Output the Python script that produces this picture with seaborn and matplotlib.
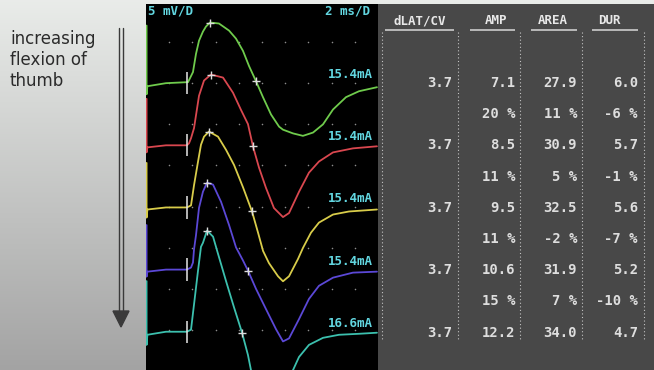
import numpy as np
import pandas as pd
import matplotlib
matplotlib.use("Agg")
import matplotlib.pyplot as plt
from matplotlib.patches import Polygon
import seaborn as sns

# ---------------- data ----------------
trace_ids = ["1", "2", "3", "4", "5"]
stim_currents = ["15.4mA", "15.4mA", "15.4mA", "15.4mA", "16.6mA"]
trace_colors = ["#6fcb4c", "#d9474f", "#d8cc4a", "#5b48d6", "#3cc0ae"]

# time (ms) and amplitude (mV, relative to each trace's baseline)
tr1_ms = [0.05, 0.05, 0.12, 1.72, 3.53, 3.62, 3.88, 4.05, 4.31, 4.57, 4.91, 5.17, 5.52,
          6.29, 7.16, 7.76, 8.36, 8.88, 9.48, 10.09, 10.78, 11.47, 11.81, 12.67, 13.53,
          14.40, 15.26, 16.12, 17.24, 18.36, 19.91]
tr1_mv = [7.0, -1.35, -0.37, 0.0, 0.12, 0.12, 0.86, 1.35, 3.56, 5.16, 6.27, 6.88, 7.37,
          7.25, 6.39, 5.41, 3.93, 2.09, 0.25, -1.72, -3.81, -5.28, -5.65, -6.1, -6.4,
          -6.0, -5.0, -3.2, -1.7, -0.98, -0.49]

tr2_ms = [0.05, 0.05, 0.12, 1.72, 3.53, 3.71, 3.88, 4.14, 4.57, 5.00, 5.60, 6.64, 7.50,
          8.19, 8.79, 9.22, 9.74, 10.34, 11.03, 11.81, 12.33, 13.19, 14.05, 14.91, 16.12,
          17.84, 19.91]
tr2_mv = [5.65, -0.86, -0.25, 0.0, 0.0, 0.25, 0.86, 2.09, 6.02, 7.87, 8.6, 8.23, 6.39,
          4.3, 2.58, -0.12, -2.7, -5.16, -7.62, -8.72, -8.23, -5.65, -3.32, -1.97, -0.86,
          -0.37, -0.12]

tr3_ms = [0.05, 0.05, 0.12, 1.72, 3.53, 3.88, 4.14, 4.48, 4.74, 5.00, 5.43, 6.21, 6.90,
          7.59, 8.36, 9.14, 9.66, 10.09, 10.60, 11.38, 11.81, 12.33, 13.10, 13.53, 14.22,
          14.91, 16.12, 17.50, 19.91]
tr3_mv = [5.41, -1.23, -0.25, 0.0, 0.0, 0.25, 2.7, 5.53, 7.62, 8.6, 9.22, 8.6, 7.0,
          5.16, 2.46, -0.49, -3.07, -5.28, -6.76, -8.36, -8.97, -8.36, -6.27, -4.92, -3.07,
          -1.84, -0.86, -0.49, -0.25]

tr4_ms = [0.05, 0.05, 0.12, 1.72, 3.53, 3.88, 4.05, 4.14, 4.31, 4.57, 4.91, 5.26, 5.78,
          6.47, 7.16, 7.76, 8.36, 8.79, 9.48, 10.34, 11.21, 11.81, 12.33, 13.19, 14.05,
          14.91, 16.12, 17.84, 19.91]
tr4_mv = [5.41, -0.86, -0.25, 0.0, 0.0, 0.25, 0.86, 2.46, 4.18, 7.5, 9.46, 10.57, 10.32,
          8.23, 5.41, 2.7, 1.11, -0.12, -2.33, -4.79, -7.25, -8.73, -8.36, -6.02, -3.56,
          -1.97, -0.98, -0.37, -0.25]

tr5_ms = [0.05, 0.05, 0.12, 1.72, 3.53, 3.88, 4.14, 4.48, 4.74, 4.91, 5.26, 5.78, 6.21,
          6.90, 7.59, 8.28, 8.79, 9.05, 9.66, 10.78, 11.90, 12.67, 13.19, 14.05, 15.26,
          16.64, 18.36, 19.91]
tr5_mv = [6.15, -1.6, -0.37, 0.0, 0.0, 0.25, 3.32, 7.37, 10.32, 10.8, 12.29, 11.55, 9.46,
          6.15, 2.95, -0.12, -2.83, -4.67, -7.0, -8.6, -7.6, -4.67, -3.07, -1.6, -0.74,
          -0.37, -0.25, -0.12]

stim_ms = 3.53
peak_ms = [5.52, 5.60, 5.43, 5.26, 5.26]
peak_mv = [7.37, 8.6, 9.22, 10.57, 12.29]
negon_ms = [9.48, 9.22, 9.14, 8.79, 8.28]
negon_mv = [0.25, -0.12, -0.49, -0.12, -0.12]

headers = ["dLAT/CV", "AMP", "AREA", "DUR"]
dlat = [3.7, 3.7, 3.7, 3.7, 3.7]
amp = [7.1, 8.5, 9.5, 10.6, 12.2]
area = [27.9, 30.9, 32.5, 31.9, 34.0]
dur = [6.0, 5.7, 5.6, 5.2, 4.7]
amp_pct = [20, 11, 11, 15]
area_pct = [11, 5, -2, 7]
dur_pct = [-6, -1, -7, -10]

side_text = "increasing\nflexion of\nthumb"
gain_label = "5 mV/D"
sweep_label = "2 ms/D"

# ---------------- figure ----------------
sns.set_theme(style="dark")
plt.rcParams['font.family'] = ['DejaVu Sans']
MONO = 'DejaVu Sans Mono'

W, H = 654, 370
fig = plt.figure(figsize=(W / 100, H / 100), dpi=100)

# background with grey gradient
bg = fig.add_axes([0, 0, 1, 1])
bg.set_xlim(0, W)
bg.set_ylim(H, 0)
bg.axis('off')
g = np.linspace(0, 1, 256)[:, None, None]
top_c = np.array([0.915, 0.925, 0.915])
bot_c = np.array([0.64, 0.64, 0.64])
grad = top_c * (1 - g) + bot_c * g
bg.imshow(grad, extent=(0, W, H, 0), aspect='auto', interpolation='bilinear')

bg.text(10, 30, side_text, ha='left', va='top', fontsize=12, color='#2b2b2b',
        linespacing=1.2)
bg.plot([118.8, 118.8], [28, 312], color='#3a3a3a', lw=1.0)
bg.plot([122.6, 122.6], [28, 312], color='#3a3a3a', lw=1.0)
bg.add_patch(Polygon([[113, 311], [129, 311], [121, 327]], closed=True,
                     color='#3a3a3a'))

# ---------------- trace panel ----------------
ax = fig.add_axes([146 / W, 0, 232 / W, 366 / H])
ax.set_facecolor('black')
ax.set_xlim(0, 20)
ax.set_ylim(-44.85, -0.38)
ax.set_xticks([])
ax.set_yticks([])
for s in ax.spines.values():
    s.set_visible(False)

# grid dots
gx, gy = np.meshgrid(np.arange(2, 20, 2), -5.0 * np.arange(1, 9))
ax.scatter(gx.ravel(), gy.ravel(), s=1.3, color='#8c8c8c', linewidths=0, zorder=1)

traces = [(tr1_ms, tr1_mv), (tr2_ms, tr2_mv), (tr3_ms, tr3_mv),
          (tr4_ms, tr4_mv), (tr5_ms, tr5_mv)]
base0, step = -10.0, 7.55
rows = []
for i, (ms, mv) in enumerate(traces):
    base = base0 - step * i
    for t, v in zip(ms, mv):
        rows.append({"ms": t, "y": v + base, "trace": trace_ids[i]})
df = pd.DataFrame(rows)
sns.lineplot(data=df, x="ms", y="y", hue="trace",
             palette=dict(zip(trace_ids, trace_colors)),
             estimator=None, sort=False, legend=False, linewidth=1.3, ax=ax)
for ln in ax.get_lines():
    ln.set_solid_joinstyle('round')
ax.set_xlabel("")
ax.set_ylabel("")

ytr = ax.get_yaxis_transform()
for i in range(5):
    base = base0 - step * i
    ax.vlines(stim_ms, base - 1.35, base + 1.35, color='#e6e6e6', lw=1.1, zorder=3)
    ax.plot(peak_ms[i], peak_mv[i] + base, ls='none', marker='+', ms=5.5, mew=1.0,
            color='#dcdcdc', zorder=4)
    ax.plot(negon_ms[i], negon_mv[i] + base, ls='none', marker='+', ms=5.5, mew=1.0,
            color='#dcdcdc', zorder=4)
    ax.text(227 / 232, base + 1.03, stim_currents[i], transform=ytr, ha='right',
            va='center', color='#62d6e0', fontsize=9, family=MONO, weight='bold')

ax.text(2 / 232, 0.998, gain_label, transform=ax.transAxes, ha='left', va='top',
        color='#62d6e0', fontsize=9, family=MONO, weight='bold')
ax.text(224 / 232, 0.998, sweep_label, transform=ax.transAxes, ha='right', va='top',
        color='#62d6e0', fontsize=9, family=MONO, weight='bold')

# ---------------- table panel ----------------
tb = fig.add_axes([378 / W, 0, 276 / W, 366 / H])
tb.set_facecolor('#484848')
tb.set_xlim(378, 654)
tb.set_ylim(370, 4)
tb.set_xticks([])
tb.set_yticks([])
for s in tb.spines.values():
    s.set_visible(False)

header_x = [420, 496, 553, 609]
under_spans = [(385, 454), (470, 515), (531, 577), (592, 638)]
col_right = [452, 515, 577, 638]
sep_x = [382, 458, 520, 582, 644]
row_y0, row_dy = 83, 31.2

for hx, h, (u0, u1) in zip(header_x, headers, under_spans):
    tb.text(hx, 21, h, ha='center', va='center', color='#e8e8e8', fontsize=9,
            family=MONO, weight='bold')
    tb.plot([u0, u1], [30, 30], color='#d8d8d8', lw=1.1, solid_capstyle='butt')
for sx in sep_x:
    tb.plot([sx, sx], [32, 341], color='#c4c4c4', lw=0.8, ls=(0, (1, 2.2)))

txt_kw = dict(ha='right', va='center', color='#dedede', fontsize=10, family=MONO,
              weight='bold')
for i in range(5):
    y = row_y0 + 2 * i * row_dy
    for cx, val in zip(col_right, [dlat[i], amp[i], area[i], dur[i]]):
        tb.text(cx, y, f"{val:.1f}", **txt_kw)
for i in range(4):
    y = row_y0 + (2 * i + 1) * row_dy
    for cx, val in zip(col_right[1:], [amp_pct[i], area_pct[i], dur_pct[i]]):
        tb.text(cx, y, f"{val} %", **txt_kw)

fig.savefig("out.png", dpi=100)
